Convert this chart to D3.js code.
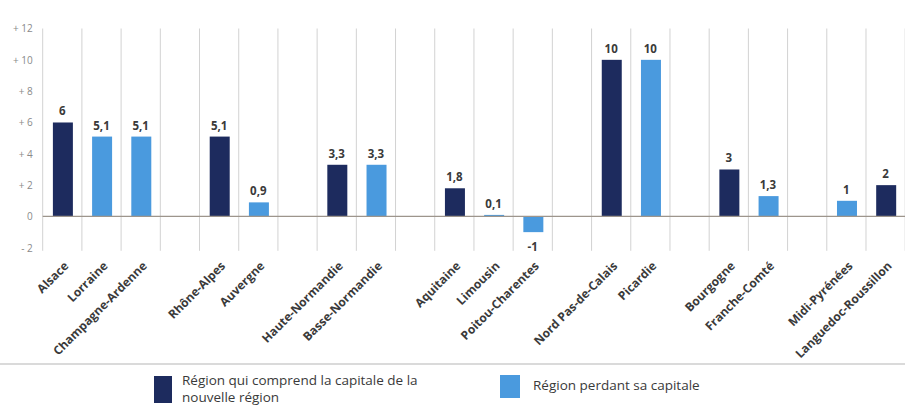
<!DOCTYPE html>
<html>
<head>
<meta charset="utf-8">
<script src="https://cdn.jsdelivr.net/npm/d3@7"></script>
<style>
  html, body { margin: 0; padding: 0; background: #ffffff; }
  svg { display: block; font-family: "Open Sans", "Liberation Sans", sans-serif; }
</style>
</head>
<body>
<svg id="chart" width="905" height="407"></svg>
<script>
// Categories: empty strings are spacer columns between regional groupings
const regions = [
  "Alsace", "Lorraine", "Champagne-Ardenne", "",
  "Rhône-Alpes", "Auvergne", "",
  "Haute-Normandie", "Basse-Normandie", "",
  "Aquitaine", "Limousin", "Poitou-Charentes", "",
  "Nord Pas-de-Calais", "Picardie", "",
  "Bourgogne", "Franche-Comté", "",
  "Midi-Pyrénées", "Languedoc-Roussillon"
];
// Value per column (null for spacer columns)
const values = [
  6, 5.1, 5.1, null,
  5.1, 0.9, null,
  3.3, 3.3, null,
  1.8, 0.1, -1, null,
  10, 10, null,
  3, 1.3, null,
  1, 2
];
// Series membership: "cap" = region holding the new capital, "perd" = region losing its capital
const series = [
  "cap", "perd", "perd", null,
  "cap", "perd", null,
  "cap", "perd", null,
  "cap", "perd", "perd", null,
  "cap", "perd", null,
  "cap", "perd", null,
  "perd", "cap"
];
const yTicks = [-2, 0, 2, 4, 6, 8, 10, 12];
const legendLabels = {
  cap: ["Région qui comprend la capitale de la", "nouvelle région"],
  perd: ["Région perdant sa capitale"]
};

const colors = { cap: "#1d2b5e", perd: "#4a9ade" };

const svg = d3.select("#chart");

const x = d3.scaleBand()
  .domain(d3.range(regions.length))
  .range([42.7, 905.2])
  .padding(0);

const y = d3.scaleLinear()
  .domain([-2, 12])
  .range([247.8, 28.5]);

// vertical separators between columns
const bounds = d3.range(regions.length + 1).map(i => i < regions.length ? x(i) : x(regions.length - 1) + x.bandwidth());
svg.append("g")
  .selectAll("line")
  .data(bounds)
  .join("line")
  .attr("x1", d => d).attr("x2", d => d)
  .attr("y1", y(12)).attr("y2", y(-2) + 3)
  .attr("stroke", "#d2d2d2")
  .attr("stroke-width", 1);

// y axis tick labels
const fmtTick = v => v > 0 ? "+ " + v : v < 0 ? "- " + Math.abs(v) : "0";
const yAxis = d3.axisLeft(y).tickValues(yTicks).tickFormat(fmtTick).tickSize(0).tickPadding(10);
const gy = svg.append("g").attr("transform", `translate(${x(0)},0)`).call(yAxis);
gy.select(".domain").remove();
gy.selectAll("text")
  .attr("fill", "#8a8a8a")
  .style("font-size", "10px")
  .style("font-family", "'Open Sans', sans-serif");

// bars
const idx = d3.range(regions.length).filter(i => values[i] !== null);
svg.append("g")
  .selectAll("rect")
  .data(idx)
  .join("rect")
  .attr("x", i => x(i) + x.bandwidth() * 0.26)
  .attr("width", x.bandwidth() * 0.51)
  .attr("y", i => y(Math.max(0, values[i])))
  .attr("height", i => Math.abs(y(values[i]) - y(0)))
  .attr("fill", i => colors[series[i]]);

// zero line
svg.append("line")
  .attr("x1", x(0)).attr("x2", 905)
  .attr("y1", y(0)).attr("y2", y(0))
  .attr("stroke", "#9d958c")
  .attr("stroke-width", 1.2);

// value labels
const fmtVal = v => String(v).replace(".", ",");
svg.append("g")
  .selectAll("text")
  .data(idx)
  .join("text")
  .attr("x", i => x(i) + x.bandwidth() / 2)
  .attr("y", i => values[i] >= 0 ? y(values[i]) - 7 : y(values[i]) + 19)
  .attr("text-anchor", "middle")
  .attr("fill", "#3a3a3a")
  .style("font-size", "11.5px")
  .style("font-weight", "700")
  .text(i => fmtVal(values[i]));

// category labels, rotated
const xAxis = d3.axisBottom(x).tickFormat(i => regions[i]).tickSize(0).tickPadding(0);
const gx = svg.append("g").attr("transform", `translate(0,${y(-2) + 16})`).call(xAxis);
gx.select(".domain").remove();
gx.selectAll("text")
  .attr("text-anchor", "end")
  .attr("y", 0)
  .attr("dy", "0.35em")
  .attr("transform", "translate(4,0) rotate(-45)")
  .attr("fill", "#3a3a3a")
  .style("font-size", "12px")
  .style("font-weight", "700")
  .style("font-family", "'Open Sans', sans-serif");

// legend separator
svg.append("line")
  .attr("x1", 0).attr("x2", 905)
  .attr("y1", 364).attr("y2", 364)
  .attr("stroke", "#b5b5b5")
  .attr("stroke-width", 1);

// legend
const legend = [
  { key: "cap", bx: 154, by: 376, bw: 18, bh: 27, tx: 182, ty: 385 },
  { key: "perd", bx: 500, by: 375, bw: 20, bh: 23, tx: 533, ty: 390 }
];
const lg = svg.append("g").selectAll("g").data(legend).join("g");
lg.append("rect")
  .attr("x", d => d.bx).attr("y", d => d.by)
  .attr("width", d => d.bw).attr("height", d => d.bh)
  .attr("fill", d => colors[d.key]);
lg.append("text")
  .attr("x", d => d.tx).attr("y", d => d.ty)
  .attr("fill", "#3a3a3a")
  .style("font-size", "13.5px")
  .selectAll("tspan")
  .data(d => legendLabels[d.key].map(t => ({ t, x: d.tx })))
  .join("tspan")
  .attr("x", d => d.x)
  .attr("dy", (d, i) => i === 0 ? 0 : 17)
  .text(d => d.t);
</script>
</body>
</html>
